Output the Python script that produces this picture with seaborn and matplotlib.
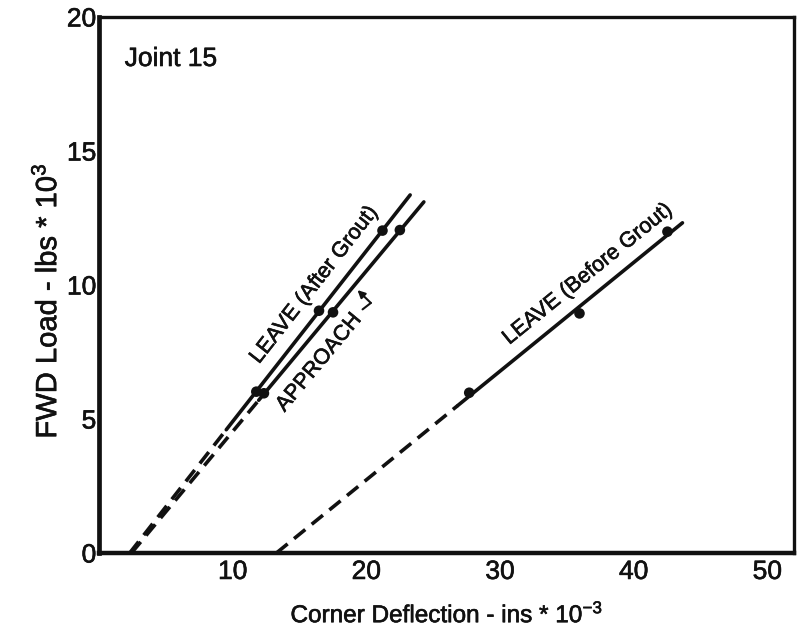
import numpy as np
import pandas as pd
import matplotlib
matplotlib.use("Agg")
import matplotlib.pyplot as plt
import matplotlib.patheffects as pe
import seaborn as sns

# FWD load (kips) vs. corner deflection (mils) for Joint 15
series_names = ["LEAVE (After Grout)", "APPROACH", "LEAVE (Before Grout)"]
load_after = [6.02, 9.04, 12.03]
defl_after = [11.77, 16.46, 21.21]
load_approach = [5.96, 8.98, 12.05]
defl_approach = [12.34, 17.51, 22.51]
load_before = [5.98, 8.94, 11.99]
defl_before = [27.7, 35.95, 42.53]
# load range drawn solid (below it the fitted line is extrapolated, dashed)
solid_from_load = [4.6, 5.7, 5.5]
line_top_load = [13.36, 13.1, 12.32]

x_ticks = [10, 20, 30, 40, 50]
y_ticks = [0, 5, 10, 15, 20]

sns.set_theme(style="white")
plt.rcParams["font.family"] = ["Liberation Sans", "DejaVu Sans"]
plt.rcParams["mathtext.default"] = "regular"

INK = "#111111"
LW = 2.6
DASH = (0, (4.0, 2.3))
BOLDEN = [pe.withStroke(linewidth=0.45, foreground=INK)]

fig = plt.figure(figsize=(8.04, 6.37), dpi=100)
ax = fig.add_axes([99 / 804, 84 / 637, 695 / 804, 536 / 637])
ax.set_xlim(0, 52)
ax.set_ylim(0, 20)

groups = [
    (series_names[0], defl_after, load_after, solid_from_load[0], line_top_load[0]),
    (series_names[1], defl_approach, load_approach, solid_from_load[1], line_top_load[1]),
    (series_names[2], defl_before, load_before, solid_from_load[2], line_top_load[2]),
]

fits = {}
for name, defl, load, lo, top in groups:
    slope, icpt = np.polyfit(load, defl, 1)  # deflection = icpt + slope * load
    fits[name] = (slope, icpt)
    dashed = pd.DataFrame({"load": [0.0, lo]})
    dashed["defl"] = icpt + slope * dashed["load"]
    solid = pd.DataFrame({"load": [lo, top]})
    solid["defl"] = icpt + slope * solid["load"]
    sns.lineplot(data=dashed, x="defl", y="load", ax=ax, color=INK, lw=LW,
                 linestyle=DASH, sort=False, estimator=None)
    sns.lineplot(data=solid, x="defl", y="load", ax=ax, color=INK, lw=LW,
                 sort=False, estimator=None)
    pts = pd.DataFrame({"defl": defl, "load": load})
    sns.scatterplot(data=pts, x="defl", y="load", ax=ax, color=INK, s=58,
                    edgecolor="none", zorder=5)


def screen_angle(name):
    slope, icpt = fits[name]
    p0 = ax.transData.transform((icpt, 0.0))
    p1 = ax.transData.transform((icpt + slope * 10.0, 10.0))
    return np.degrees(np.arctan2(p1[1] - p0[1], p1[0] - p0[0]))


label_pos = {
    "LEAVE (After Grout)": (16.1, 10.0),
    "APPROACH": (16.45, 7.1),
    "LEAVE (Before Grout)": (36.55, 10.4),
}
for name, (lx, ly) in label_pos.items():
    ax.text(lx, ly, name, rotation=screen_angle(name), rotation_mode="anchor",
            ha="center", va="center", fontsize=15.5, color=INK,
            path_effects=BOLDEN)

# hooked pointer from the APPROACH label to its line
ax.annotate("", xy=(19.34, 9.81), xytext=(20.34, 9.33),
            arrowprops=dict(arrowstyle="-|>", lw=1.5, color=INK,
                            mutation_scale=11, shrinkA=0, shrinkB=0))
ax.plot([20.34, 19.72], [9.33, 9.09], color=INK, lw=1.5)

ax.text(0.037, 0.9086, "Joint 15", transform=ax.transAxes, fontsize=19,
        color=INK, ha="left", va="baseline", path_effects=BOLDEN)

ax.set_xticks(x_ticks)
ax.set_yticks(y_ticks)
ax.tick_params(direction="in", length=12, width=1.8, labelsize=19,
               colors=INK, pad=5)
ax.tick_params(axis="y", pad=2)
for lab in ax.get_xticklabels() + ax.get_yticklabels():
    lab.set_path_effects(BOLDEN)

for side, w in [("left", 3.4), ("bottom", 3.2), ("top", 2.4), ("right", 2.4)]:
    ax.spines[side].set_visible(True)
    ax.spines[side].set_linewidth(w)
    ax.spines[side].set_color(INK)

ax.set_xlabel("Corner Deflection - ins * $10^{-3}$", fontsize=17.5, color=INK,
              labelpad=13, path_effects=BOLDEN)
ax.set_ylabel("FWD Load - lbs * $10^3$", fontsize=21, color=INK,
              path_effects=BOLDEN)
ax.yaxis.set_label_coords(-0.053, 0.47)

fig.savefig("out.png", dpi=100, facecolor="white")
